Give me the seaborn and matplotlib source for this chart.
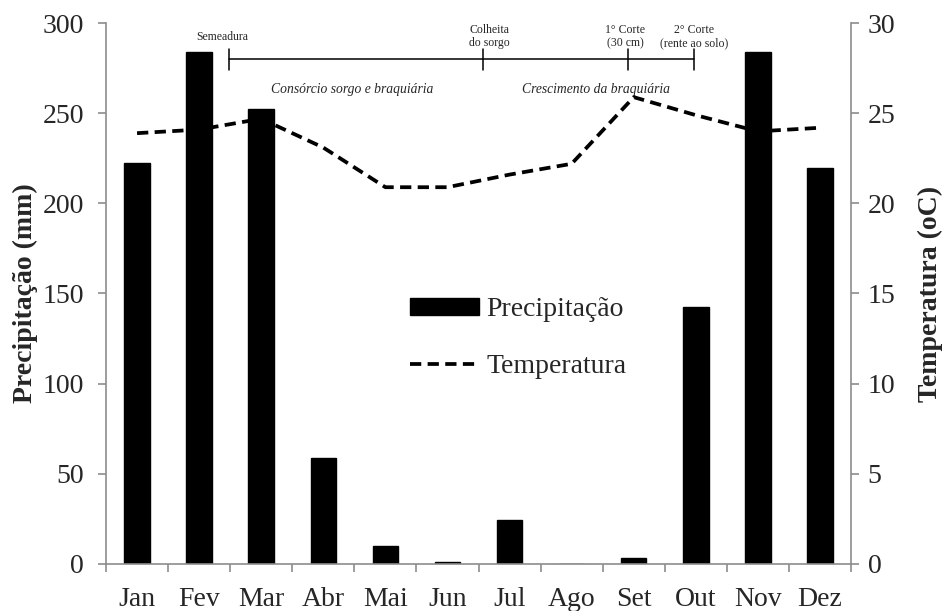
import numpy as np
import pandas as pd
import matplotlib
matplotlib.use("Agg")
import matplotlib.pyplot as plt
import matplotlib.transforms as mtransforms
from matplotlib.lines import Line2D
from matplotlib.patches import Patch
import seaborn as sns

# Data
MONTHS = ["Jan", "Fev", "Mar", "Abr", "Mai", "Jun", "Jul", "Ago", "Set", "Out", "Nov", "Dez"]
PRECIP = [222.5, 284.3, 252.5, 58.7, 10.0, 1.0, 24.5, 0.0, 3.0, 142.4, 283.8, 219.9]
TEMP = [23.9, 24.1, 24.7, 23.1, 20.9, 20.9, 21.6, 22.2, 25.9, 24.9, 24.0, 24.2]

# Timeline events (position on month axis, label)
EVENT_POS = [1.48, 5.57, 7.91, 8.97]
EVENT_LABELS = ["Semeadura", "Colheita\ndo sorgo", "1\u00b0 Corte\n(30 cm)", "2\u00b0 Corte\n(rente ao solo)"]
EVENT_TEXT_X = [1.37, 5.67, 7.86, 8.97]
PHASE_LABELS = ["Cons\u00f3rcio sorgo e braqui\u00e1ria", "Crescimento da braqui\u00e1ria"]
PHASE_X = [3.47, 7.4]

GRAY = "#8c8c8c"
DASH = (0, (3.0, 1.7))

sns.set_style("white")
plt.rcParams["font.family"] = ["Liberation Serif", "DejaVu Serif"]

df = pd.DataFrame({"mes": MONTHS, "precip": PRECIP, "temp": TEMP, "pos": np.arange(len(MONTHS))})

fig = plt.figure(figsize=(9.44, 6.11), dpi=100)
ax = fig.add_axes([0.1123, 0.0774, 0.7892, 0.8845])

sns.barplot(data=df, x="mes", y="precip", color="black", width=0.41,
            saturation=1, ax=ax, edgecolor="black")
ax.set_xlim(-0.5, 11.5)
ax.set_ylim(0, 300)
ax.set_yticks(np.arange(0, 301, 50))

ax2 = ax.twinx()
sns.lineplot(data=df, x="pos", y="temp", ax=ax2, color="black", linewidth=2.7,
             linestyle=DASH)
ax2.set_ylim(0, 30)
ax2.set_yticks(np.arange(0, 31, 5))
ax.set_xlim(-0.5, 11.5)

# axes styling
for a in (ax, ax2):
    for s in a.spines.values():
        s.set_color(GRAY)
        s.set_linewidth(1.2)
    a.spines["top"].set_visible(False)
ax.spines["right"].set_visible(False)
ax2.spines["left"].set_visible(False)
ax2.spines["bottom"].set_visible(False)

ax.tick_params(axis="y", length=6, width=1.2, color=GRAY, labelsize=20, pad=10, left=True)
ax2.tick_params(axis="y", length=6, width=1.2, color=GRAY, labelsize=20, pad=6, right=True)
ax.set_xticks(np.arange(12))
ax.set_xticklabels(MONTHS)
ax.set_xticks(np.arange(-0.5, 12, 1), minor=True)
ax.tick_params(axis="x", which="major", length=0, labelsize=20, pad=17)
ax.tick_params(axis="x", which="minor", length=6, width=1.2, color=GRAY, bottom=True)

ax.set_xlabel("")
ax.set_ylabel("Precipita\u00e7\u00e3o (mm)", fontsize=20, fontweight="bold", labelpad=3)
ax2.set_ylabel("Temperatura (oC)", fontsize=20, fontweight="bold", labelpad=16)

# timeline annotations at the top
trans = mtransforms.blended_transform_factory(ax.transData, ax.transAxes)
ax.plot([EVENT_POS[0], EVENT_POS[-1]], [0.933, 0.933], transform=trans, color="black",
        linewidth=1.1, clip_on=False, zorder=5)
for p in EVENT_POS:
    ax.plot([p, p], [0.914, 0.953], transform=trans, color="black", linewidth=1.1,
            clip_on=False, zorder=5)
for x, lab in zip(EVENT_TEXT_X, EVENT_LABELS):
    ax.text(x, 0.975, lab, transform=trans, ha="center", va="center", fontsize=8.5,
            linespacing=1.1)
for x, lab in zip(PHASE_X, PHASE_LABELS):
    ax.text(x, 0.878, lab, transform=trans, ha="center", va="center", fontsize=9.8,
            style="italic")

# legend
handles = [Patch(facecolor="black", edgecolor="black"),
           Line2D([0], [0], color="black", linewidth=2.7, linestyle=DASH)]
leg = ax2.legend(handles, ["Precipita\u00e7\u00e3o", "Temperatura"], loc="upper left",
                 bbox_to_anchor=(0.408, 0.493), frameon=False, fontsize=20,
                 handlelength=2.5, handleheight=0.6, handletextpad=0.25,
                 labelspacing=1.15, borderaxespad=0, borderpad=0)

fig.savefig("out.png", dpi=100)
